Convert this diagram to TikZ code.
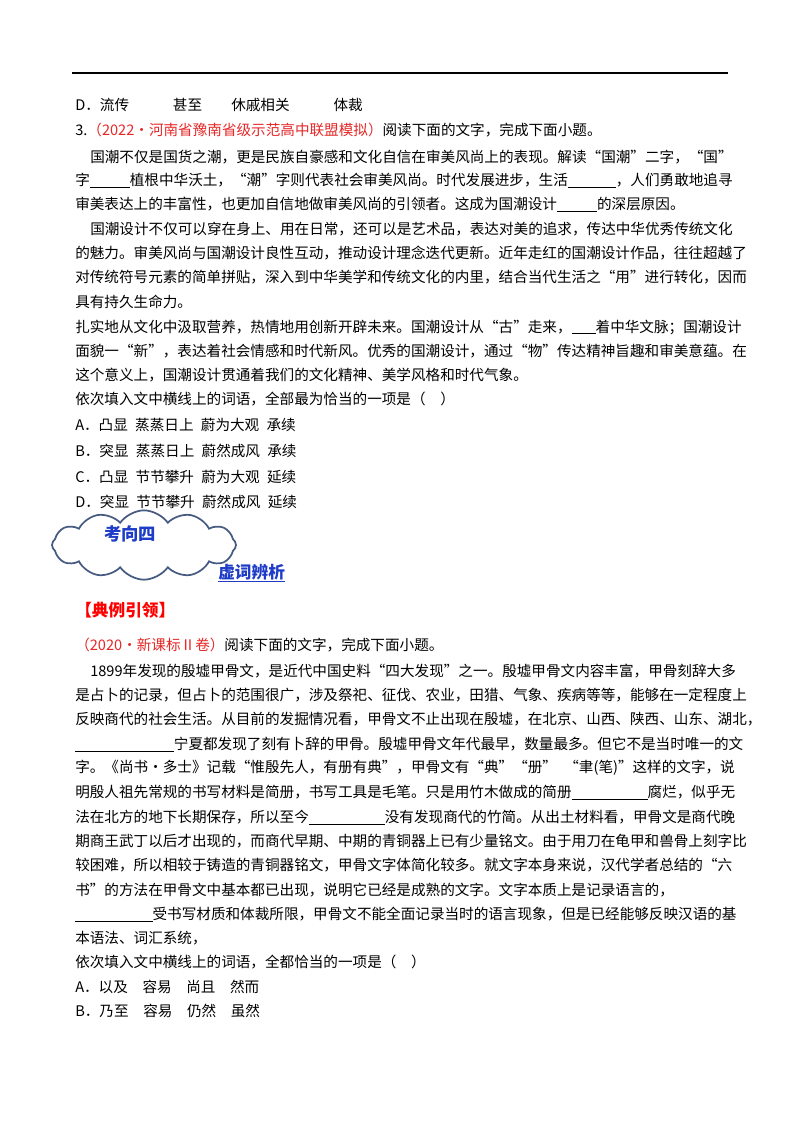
\documentclass[tikz,border=0pt]{standalone}
\usepackage{fontspec}
\setmainfont{Liberation Serif}
\newfontfamily\cjk{Noto Sans CJK SC}
\usetikzlibrary{shapes.symbols}
\newcommand{\blnk}[1]{\rule[-1.5pt]{#1pt}{0.5pt}}
\definecolor{qred}{RGB}{230,40,40}
\definecolor{cloudblue}{RGB}{70,90,130}
\definecolor{linkblue}{RGB}{30,60,200}
\begin{document}
\begin{tikzpicture}[x=0.75pt,y=-0.75pt,
  t/.style={anchor=west,inner sep=0pt,font=\cjk\fontsize{10.95}{13}\selectfont}]
\useasboundingbox (0,0) rectangle (800,1132);
\fill[white] (0,0) rectangle (800,1132);
\draw[line width=1pt] (72,73) -- (728,73);
\node[t] (l1) at (75,105) {D．流传\hspace{3em}甚至\hspace{2em}休戚相关\hspace{3em}体裁};
\node[t] (l2) at (75,130) {3.{\color{qred}（2022·河南省豫南省级示范高中联盟模拟）}阅读下面的文字，完成下面小题。};
\node[t] (l3) at (90,157) {国潮不仅是国货之潮，更是民族自豪感和文化自信在审美风尚上的表现。解读“国潮”二字，“国”};
\node[t] (l4) at (75,180) {字\blnk{30}植根中华沃土，“潮”字则代表社会审美风尚。时代发展进步，生活\blnk{36}，人们勇敢地追寻};
\node[t] (l5) at (75,204) {审美表达上的丰富性，也更加自信地做审美风尚的引领者。这成为国潮设计\blnk{30}的深层原因。};
\node[t] (l6) at (90,229) {国潮设计不仅可以穿在身上、用在日常，还可以是艺术品，表达对美的追求，传达中华优秀传统文化};
\node[t] (l7) at (75,253) {的魅力。审美风尚与国潮设计良性互动，推动设计理念迭代更新。近年走红的国潮设计作品，往往超越了};
\node[t] (l8) at (75,277) {对传统符号元素的简单拼贴，深入到中华美学和传统文化的内里，结合当代生活之“用”进行转化，因而};
\node[t] (l9) at (75,302) {具有持久生命力。};
\node[t] (l10) at (75,327) {扎实地从文化中汲取营养，热情地用创新开辟未来。国潮设计从“古”走来，\blnk{18}着中华文脉；国潮设计};
\node[t] (l11) at (75,351) {面貌一“新”，表达着社会情感和时代新风。优秀的国潮设计，通过“物”传达精神旨趣和审美意蕴。在};
\node[t] (l12) at (75,375) {这个意义上，国潮设计贯通着我们的文化精神、美学风格和时代气象。};
\node[t] (l13) at (75,399) {依次填入文中横线上的词语，全部最为恰当的一项是（\quad）};
\node[t] (oa) at (75,425) {A．凸显\enspace 蒸蒸日上\enspace 蔚为大观\enspace 承续};
\node[t] (ob) at (75,451) {B．突显\enspace 蒸蒸日上\enspace 蔚然成风\enspace 承续};
\node[t] (oc) at (75,477) {C．凸显\enspace 节节攀升\enspace 蔚为大观\enspace 延续};
\node[t] (od) at (75,502) {D．突显\enspace 节节攀升\enspace 蔚然成风\enspace 延续};
\node[cloud,cloud puffs=12,cloud puff arc=110,aspect=2.6,draw=cloudblue,line width=1.3pt,
  fill=white,minimum width=138,minimum height=52,inner sep=0pt] (cl) at (144,545) {};
\node[inner sep=0pt,font=\cjk\bfseries\fontsize{13}{15}\selectfont,text=linkblue] (clt) at (130,534) {考向四};
\node[anchor=west,inner sep=0pt,font=\cjk\bfseries\fontsize{12.5}{15}\selectfont,text=linkblue] (hx) at (218,573) {\underline{虚词辨析}};
\node[anchor=west,inner sep=0pt,font=\cjk\bfseries\fontsize{12.5}{15}\selectfont,text=red] (dl) at (75,610) {【典例引领】};
\node[t] (m1) at (75,645) {{\color{qred}（2020·新课标Ⅱ卷）}阅读下面的文字，完成下面小题。};
\node[t] (m2) at (90,671) {1899年发现的殷墟甲骨文，是近代中国史料“四大发现”之一。殷墟甲骨文内容丰富，甲骨刻辞大多};
\node[t] (m3) at (75,695) {是占卜的记录，但占卜的范围很广，涉及祭祀、征伐、农业，田猎、气象、疾病等等，能够在一定程度上};
\node[t] (m4) at (75,719) {反映商代的社会生活。从目前的发掘情况看，甲骨文不止出现在殷墟，在北京、山西、陕西、山东、湖北，};
\node[t] (m5) at (75,744) {\blnk{74}宁夏都发现了刻有卜辞的甲骨。殷墟甲骨文年代最早，数量最多。但它不是当时唯一的文};
\node[t] (m6) at (75,768) {字。《尚书·多士》记载“惟殷先人，有册有典”，甲骨文有“典”“册”\enspace“聿(笔)”这样的文字，说};
\node[t] (m7) at (75,792) {明殷人祖先常规的书写材料是简册，书写工具是毛笔。只是用竹木做成的简册\blnk{57}腐烂，似乎无};
\node[t] (m8) at (75,817) {法在北方的地下长期保存，所以至今\blnk{57}没有发现商代的竹简。从出土材料看，甲骨文是商代晚};
\node[t] (m9) at (75,841) {期商王武丁以后才出现的，而商代早期、中期的青铜器上已有少量铭文。由于用刀在龟甲和兽骨上刻字比};
\node[t] (m10) at (75,865) {较困难，所以相较于铸造的青铜器铭文，甲骨文字体简化较多。就文字本身来说，汉代学者总结的“六};
\node[t] (m11) at (75,890) {书”的方法在甲骨文中基本都已出现，说明它已经是成熟的文字。文字本质上是记录语言的，};
\node[t] (m12) at (75,914) {\blnk{58}受书写材质和体裁所限，甲骨文不能全面记录当时的语言现象，但是已经能够反映汉语的基};
\node[t] (m13) at (75,938) {本语法、词汇系统，};
\node[t] (m14) at (75,962) {依次填入文中横线上的词语，全都恰当的一项是（\quad）};
\node[t] (pa) at (75,987) {A．以及\quad 容易\quad 尚且\quad 然而};
\node[t] (pb) at (75,1011) {B．乃至\quad 容易\quad 仍然\quad 虽然};
\end{tikzpicture}
\end{document}
